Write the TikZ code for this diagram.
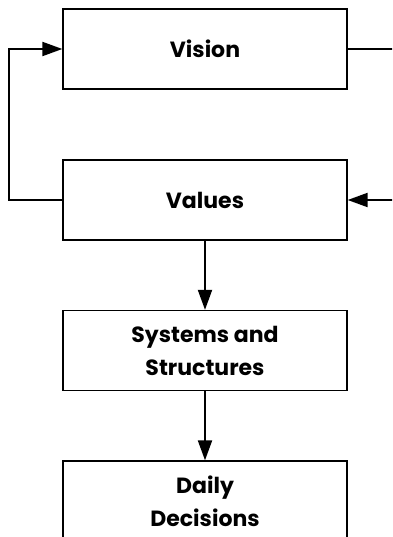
\documentclass[tikz,border=0pt]{standalone}
\usepackage{fontspec}
\newfontfamily\stagefont{Poppins}
\usetikzlibrary{arrows.meta}

\tikzset{
  stage/.style={draw, line width=1.3pt, minimum width=284pt, minimum height=80pt,
    inner sep=0pt, align=center,
    font=\stagefont\bfseries\fontsize{22}{33}\selectfont},
  flow/.style={line width=2pt, -{Triangle[length=20pt,width=14pt]}}
}

\begin{document}
\begin{tikzpicture}[x=1pt, y=-1pt]
  \useasboundingbox (0,0) rectangle (392,537);
  \clip (0,0) rectangle (392,537);

  % the four stages, top to bottom
  \node[stage] (vision)  at (205,49)    {Vision};
  \node[stage] (values)  at (205,200)   {Values};
  \node[stage] (systems) at (205,350.5) {Systems and\\Structures};
  \node[stage] (daily)   at (205,501)   {Daily\\Decisions};

  % feedback loops between vision and values
  \coordinate (lefttop) at (9,49);
  \coordinate (leftbot) at (9,200);
  \draw[flow] (values.west) -- (leftbot) -- (lefttop) -- (vision.west);

  \coordinate (righttop) at (410,49);
  \coordinate (rightbot) at (410,200);
  \draw[flow] (vision.east) -- (righttop) -- (rightbot) -- (values.east);

  % downward flow
  \draw[flow] (values.south) -- (systems.north);
  \draw[flow] (systems.south) -- (daily.north);
\end{tikzpicture}
\end{document}
